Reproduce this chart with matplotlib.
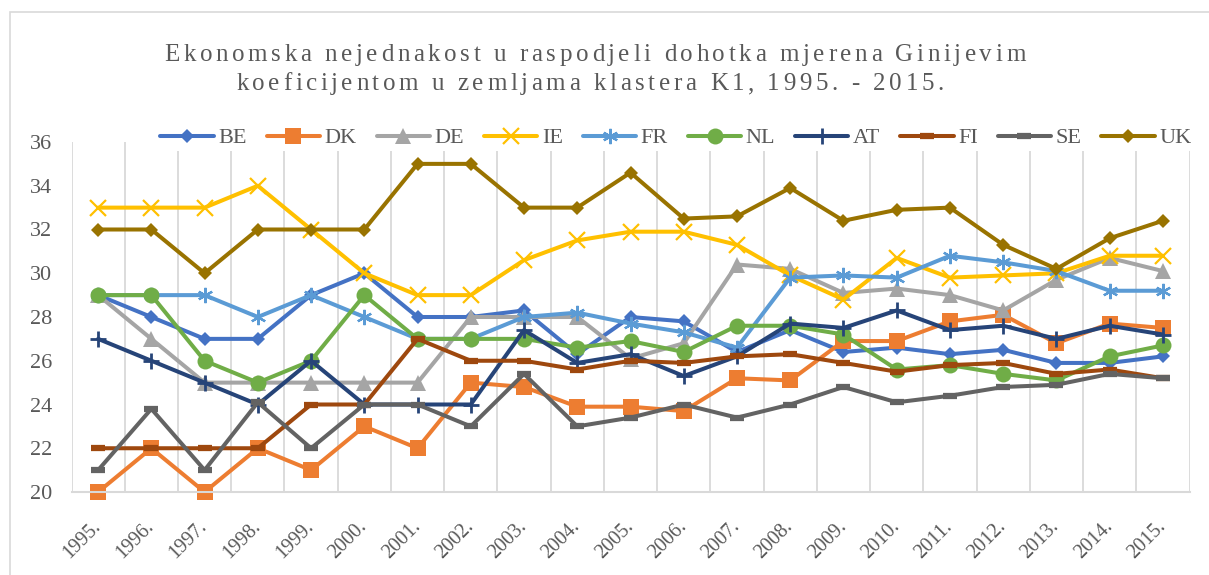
import matplotlib
matplotlib.use('Agg')
import matplotlib.pyplot as plt
from matplotlib import font_manager
from matplotlib.ft2font import FT2Font
from matplotlib.patches import Rectangle

# Gini koeficijent, zemlje klastera K1
years = list(range(1995, 2016))
year_labels = [f'{y}.' for y in years]

be = [29, 28, 27, 27, 29, 30, 28, 28, 28.3, 26.3, 28.0, 27.8, 26.4, 27.4, 26.4, 26.6, 26.3, 26.5, 25.9, 25.9, 26.2]
dk = [20, 22, 20, 22, 21, 23, 22, 25, 24.8, 23.9, 23.9, 23.7, 25.2, 25.1, 26.9, 26.9, 27.8, 28.1, 26.8, 27.7, 27.5]
de = [29, 27, 25, 25, 25, 25, 25, 28, 28, 28, 26.1, 26.8, 30.4, 30.2, 29.1, 29.3, 29.0, 28.3, 29.7, 30.7, 30.1]
ie = [33, 33, 33, 34, 32, 30, 29, 29, 30.6, 31.5, 31.9, 31.9, 31.3, 29.9, 28.8, 30.7, 29.8, 29.9, 30.0, 30.8, 30.8]
fr = [29, 29, 29, 28, 29, 28, 27, 27, 28.0, 28.2, 27.7, 27.3, 26.6, 29.8, 29.9, 29.8, 30.8, 30.5, 30.1, 29.2, 29.2]
nl = [29, 29, 26, 25, 26, 29, 27, 27, 27.0, 26.6, 26.9, 26.4, 27.6, 27.6, 27.2, 25.6, 25.8, 25.4, 25.1, 26.2, 26.7]
at = [27, 26, 25, 24, 26, 24, 24, 24, 27.4, 25.9, 26.3, 25.3, 26.2, 27.7, 27.5, 28.3, 27.4, 27.6, 27.0, 27.6, 27.2]
fi = [22, 22, 22, 22, 24, 24, 27, 26, 26.0, 25.6, 26.0, 25.9, 26.2, 26.3, 25.9, 25.5, 25.8, 25.9, 25.4, 25.6, 25.2]
se = [21, 23.8, 21, 24.1, 22, 24, 24, 23, 25.4, 23.0, 23.4, 24.0, 23.4, 24.0, 24.8, 24.1, 24.4, 24.8, 24.9, 25.4, 25.2]
uk = [32, 32, 30, 32, 32, 32, 35, 35, 33, 33, 34.6, 32.5, 32.6, 33.9, 32.4, 32.9, 33.0, 31.3, 30.2, 31.6, 32.4]

title_lines = ['Ekonomska nejednakost u raspodjeli dohotka mjerena Ginijevim',
               'koeficijentom u zemljama klastera K1, 1995. - 2015.']

W, H, DPI = 1209, 575, 100
SERIF = 'Liberation Serif'
TEXT = '#595959'
GRID = '#d9d9d9'

# (label, values, color, marker, markersize, markeredgewidth)
series = [
    ('BE', be, '#4472C4', 'D', 7.5, 0),
    ('DK', dk, '#ED7D31', 's', 11.5, 0),
    ('DE', de, '#A5A5A5', '^', 11.5, 0),
    ('IE', ie, '#FFC000', 'x', 11, 1.6),
    ('FR', fr, '#5B9BD5', (6, 2, 0), 11, 1.6),
    ('NL', nl, '#70AD47', 'o', 11.5, 0),
    ('AT', at, '#264478', '+', 11, 2),
    ('FI', fi, '#9E480E', '_', 10, 4.5),
    ('SE', se, '#636363', '_', 10, 4.5),
    ('UK', uk, '#997300', 'D', 7.5, 0),
]

serif_file = font_manager.findfont(font_manager.FontProperties(family=SERIF))


def char_advances(s, size):
    ft = FT2Font(serif_file)
    ft.set_size(size, DPI)
    return [ft.load_char(ord(c)).linearHoriAdvance / 65536 for c in s]


def spaced_line(fig, s, cx, baseline, size, spacing):
    # letter-spaced text, one glyph at a time (pixel coords from top-left)
    adv = char_advances(s, size)
    x = cx - (sum(adv) + spacing * (len(s) - 1)) / 2
    for ch, a in zip(s, adv):
        if ch != ' ':
            fig.text(x / W, 1 - baseline / H, ch, fontsize=size, family=SERIF,
                     color=TEXT, ha='left', va='baseline')
        x += a + spacing


fig = plt.figure(figsize=(W / DPI, H / DPI), dpi=DPI)
fig.patches.append(Rectangle((10 / W, -0.1), 1.2, 1 - 12 / H + 0.1, transform=fig.transFigure,
                             fill=False, edgecolor=GRID, linewidth=1.2))

ax = fig.add_axes([71.5 / W, 1 - 492 / H, (1189.5 - 71.5) / W, 350 / H])

for label, vals, color, marker, ms, mew in series:
    ax.plot(years, vals, color=color, linewidth=2.9, marker=marker, markersize=ms,
            markeredgewidth=mew, markeredgecolor=color, markerfacecolor=color,
            label=label, clip_on=False, solid_capstyle='round', solid_joinstyle='round')

ax.set_xlim(1994.5, 2015.5)
ax.set_ylim(20, 36)
ax.set_yticks(range(20, 37, 2))
ax.set_xticks(years)
ax.set_xticklabels(year_labels, rotation=45, ha='right', va='center', rotation_mode='anchor')
ax.set_xticks([y + 0.5 for y in range(1994, 2016)], minor=True)
ax.grid(True, axis='x', which='minor', color=GRID, linewidth=1.3)
ax.set_axisbelow(True)

for side in ['top', 'right', 'left']:
    ax.spines[side].set_visible(False)
ax.spines['bottom'].set_color(GRID)
ax.spines['bottom'].set_linewidth(1.5)
ax.tick_params(axis='both', which='both', length=0)
ax.tick_params(axis='y', labelsize=16, labelcolor=TEXT, pad=14)
ax.tick_params(axis='x', labelsize=14.5, labelcolor=TEXT, pad=23)
for t in ax.get_xticklabels() + ax.get_yticklabels():
    t.set_family(SERIF)

leg = fig.legend(loc='center', bbox_to_anchor=(676 / W, 1 - 138 / H), ncol=10,
                 frameon=True, facecolor='white', edgecolor='none', framealpha=1,
                 handlelength=2.4, handletextpad=0.2, columnspacing=0.9, borderpad=0.1,
                 prop={'family': SERIF, 'size': 16})
for t in leg.get_texts():
    t.set_color(TEXT)

spaced_line(fig, title_lines[0], 595, 61, 18, 3.6)
spaced_line(fig, title_lines[1], 590, 90, 18, 3.6)

fig.savefig('out.png', dpi=DPI)
